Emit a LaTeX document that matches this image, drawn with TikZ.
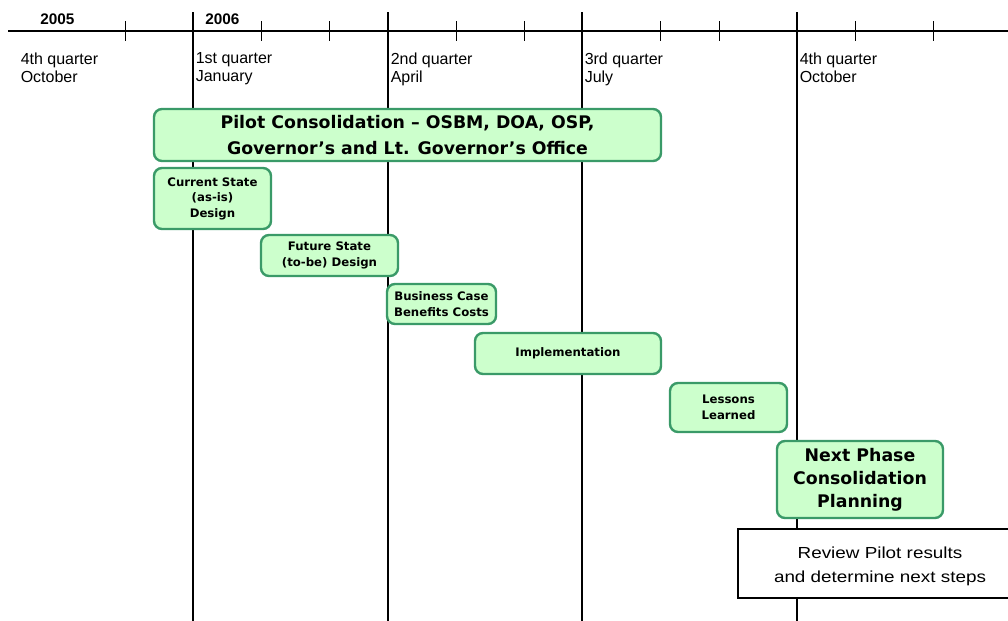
\documentclass[tikz,border=0pt]{standalone}
\usepackage{fontspec}
\setmainfont{Liberation Sans}
\newfontfamily\boxfont{DejaVu Sans}
\newfontfamily\revfont{Liberation Sans}[FakeStretch=1.18]
\definecolor{gfill}{HTML}{CCFFCC}
\definecolor{gline}{HTML}{3A9A68}
\tikzset{
  gbox/.style={draw=gline, fill=gfill, line width=1.8pt, rounded corners=6pt,
    align=center, inner sep=0pt, font=\boxfont\bfseries},
  bigtxt/.style={font=\boxfont\bfseries\fontsize{13}{19.3}\selectfont},
  midtxt/.style={font=\boxfont\bfseries\fontsize{13}{17.2}\selectfont},
  smalltxt/.style={font=\boxfont\bfseries\fontsize{8.8}{11.6}\selectfont},
  qlabel/.style={anchor=north west, inner sep=0pt, align=left,
    font=\fontsize{12}{13.5}\selectfont},
  year/.style={anchor=base west, inner sep=0pt, font=\bfseries\fontsize{11.5}{13}\selectfont},
  major/.style={line width=1.1pt},
  minortick/.style={line width=0.7pt},
}
\begin{document}
\begin{tikzpicture}[x=0.75pt, y=-0.75pt]
\useasboundingbox (0,0) rectangle (1008,621);
\clip (0,0) rectangle (1008,621);
% timeline
\coordinate (tlL) at (8,31);
\coordinate (tlR) at (1008,31);
\draw[line width=2.2pt] (tlL) -- (tlR);
\foreach \x in {193,388,582,797} \draw[major] (\x,12) -- (\x,621);
\foreach \x in {125,261,329,456,524,660,719,855,933} \draw[minortick] (\x,21) -- (\x,41);
% years
\node[year] (y2005) at (40,24) {2005};
\node[year] (y2006) at (205,24) {2006};
% quarter labels
\node[qlabel] (q0) at (20.5,52.5) {4th quarter\\October};
\node[qlabel] (q1) at (195.5,52.5) {1st quarter\\January};
\node[qlabel] (q2) at (390.5,52.5) {2nd quarter\\April};
\node[qlabel] (q3) at (584.5,52.5) {3rd quarter\\July};
\node[qlabel] (q4) at (799.5,52.5) {4th quarter\\October};
% green boxes
\node[gbox, bigtxt, minimum width=380.25pt, minimum height=39pt] (pilot) at (407.5,135)
  {Pilot Consolidation – OSBM, DOA, OSP,\\Governor’s and Lt. Governor’s Office};
\node[gbox, smalltxt, minimum width=87.75pt, minimum height=45.75pt] (cur) at (212.5,198.5)
  {Current State\\(as-is)\\Design};
\node[gbox, smalltxt, minimum width=102.75pt, minimum height=30.75pt] (fut) at (329.5,255.5)
  {Future State\\(to-be) Design};
\node[gbox, smalltxt, minimum width=81.75pt, minimum height=30pt] (bus) at (441.5,304)
  {Business Case\\Benefits Costs};
\node[gbox, smalltxt, minimum width=139.5pt, minimum height=30.75pt] (impl) at (568,353.5)
  {Implementation};
\node[gbox, smalltxt, minimum width=87.75pt, minimum height=36.75pt] (les) at (728.5,407.5)
  {Lessons\\Learned};
\node[gbox, midtxt, minimum width=124.5pt, minimum height=57.75pt] (next) at (860,479.5)
  {Next Phase\\Consolidation\\Planning};
% review box
\node[draw, fill=white, line width=0.8pt, minimum width=205.5pt, minimum height=51.75pt, inner sep=0pt] (revbox) at (875,563.5) {};
\node[align=center, inner sep=0pt, font=\revfont\fontsize{12}{18}\selectfont] (rev) at (880,566)
  {Review Pilot results\\and determine next steps};
\end{tikzpicture}
\end{document}
